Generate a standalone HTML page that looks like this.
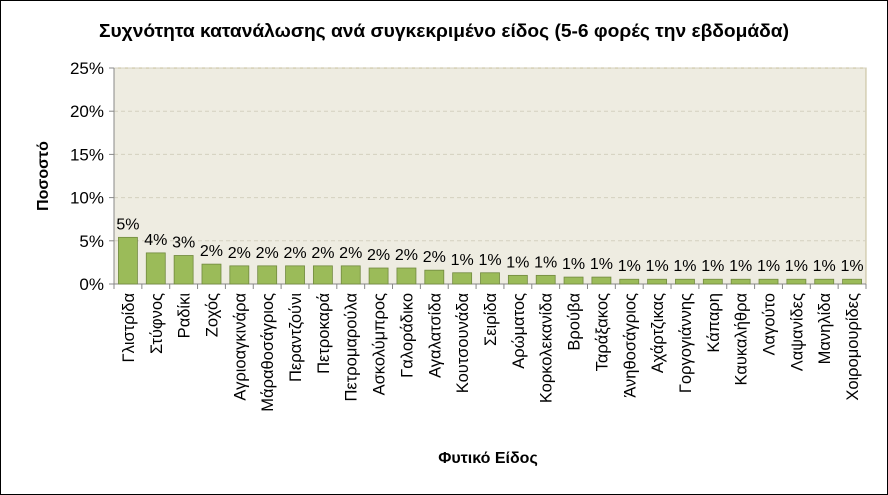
<!DOCTYPE html>
<html><head><meta charset="utf-8"><style>
body{margin:0;background:#fff;}
svg{display:block;font-family:"Liberation Sans","DejaVu Sans",sans-serif;}
</style></head><body>
<svg id="c" width="888" height="495">
<rect x="0.5" y="0.5" width="887" height="494" fill="#fff" stroke="#000" stroke-width="1"/>
<text x="444" y="37" text-anchor="middle" font-size="18" font-weight="bold" fill="#000" textLength="690" lengthAdjust="spacingAndGlyphs">Συχνότητα κατανάλωσης ανά συγκεκριμένο είδος (5-6 φορές την εβδομάδα)</text>
<text transform="translate(48,176) rotate(-90)" text-anchor="middle" font-size="16" font-weight="bold">Ποσοστό</text>
<text x="488" y="463" text-anchor="middle" font-size="16" font-weight="bold">Φυτικό Είδος</text>
<g id="g"></g>
</svg>
<script>
const categories=["Γλιστρίδα","Στύφνος","Ραδίκι","Ζοχός","Αγριοαγκινάρα","Μάραθοσάγριος","Περαντζούνι","Πετροκαρά","Πετρομαρούλα","Ασκολύμπρος","Γαλοράδικο","Αγαλατσίδα","Κουτσουνάδα","Σειρίδα","Αρώματος","Κορκολεκανίδα","Βρούβα","Ταράξακος","Άνηθοσάγριος","Αχάρτζικας","Γοργογιάννης","Κάπαρη","Καυκαλήθρα","Λαγούτο","Λαψανίδες","Μανηλίδα","Χοιρομουρίδες"];
const values=[5.4,3.6,3.3,2.3,2.1,2.1,2.1,2.1,2.1,1.85,1.85,1.6,1.3,1.3,1.0,1.0,0.8,0.8,0.55,0.55,0.55,0.55,0.55,0.55,0.55,0.55,0.55];
const valueLabels=["5%","4%","3%","2%","2%","2%","2%","2%","2%","2%","2%","2%","1%","1%","1%","1%","1%","1%","1%","1%","1%","1%","1%","1%","1%","1%","1%"];
const yTicks=[0,5,10,15,20,25];
const NS="http://www.w3.org/2000/svg";
const g=document.getElementById('g');
const L=114,R=866,T=68,B=284,yMax=25;
const n=categories.length,cw=(R-L)/n;
const y=v=>B-(v/yMax)*(B-T);
const x=i=>L+cw*i;
function mk(t,a){const e=document.createElementNS(NS,t);for(const k in a)e.setAttribute(k,a[k]);g.appendChild(e);return e;}
let e=mk('rect',{x:L,y:T,width:R-L,height:B-T,fill:'#eeece1',stroke:'#c4bd97'});


yTicks.forEach(t=>{
 if(t>0){let l=mk('line',{x1:L,x2:R,y1:y(t),y2:y(t),stroke:'#d4d0bf','stroke-dasharray':'4,3'});
 
 }
 let tk=mk('line',{x1:L-5,x2:L,y1:y(t),y2:y(t),stroke:'#888'});
 
 
 let tx=mk('text',{x:L-10,y:y(t)+6,'text-anchor':'end','font-size':17});
 tx.textContent=t+'%';
 
 
});
let ax=mk('line',{x1:L,x2:L,y1:T,y2:B,stroke:'#888'});


let bx=mk('line',{x1:L,x2:R,y1:B,y2:B,stroke:'#888'});


for(let i=0;i<=n;i++){let tk=mk('line',{x1:x(i),x2:x(i),y1:B,y2:B+5,stroke:'#888'});
 
 }
categories.forEach((c,i)=>{
 const bw=19,cx=x(i)+cw/2;
 let b=mk('rect',{x:cx-bw/2,y:y(values[i]),width:bw,height:B-y(values[i]),fill:'#9bbb59',stroke:'#71893f','stroke-width':0.8});
 
 
 let v=mk('text',{x:cx,y:y(values[i])-8,'text-anchor':'middle','font-size':16});
 v.textContent=valueLabels[i];
 
 
 let t=mk('text',{transform:`translate(${cx+6},${B+9}) rotate(-90)`,'text-anchor':'end','font-size':16.5});
 t.textContent=c;
 
 
});
</script>
</body></html>
